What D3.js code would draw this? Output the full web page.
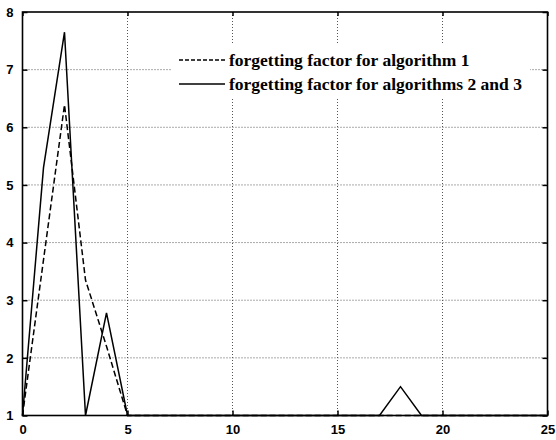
<!DOCTYPE html>
<html>
<head>
  <meta charset="utf-8">
  <script src="https://d3js.org/d3.v7.min.js"></script>
  <style>
    body { margin: 0; background: #fff; }
    .tick text { font-family: "Liberation Sans", Arial, sans-serif; font-weight: bold; font-size: 13px; }
    .legend text { font-family: "Liberation Serif", "Times New Roman", serif; font-weight: bold; font-size: 17.5px; }
  </style>
</head>
<body>
  <svg width="556" height="440"></svg>

  <script>
    // sample index 0..25
    var steps = [0, 1, 2, 3, 4, 5, 6, 7, 8, 9, 10, 11, 12, 13, 14, 15, 16, 17, 18, 19, 20, 21, 22, 23, 24, 25];
    // forgetting factor, algorithm 1 (dashed)
    var alg1 = [1, 3.7, 6.39, 3.35, 2.2, 1, 1, 1, 1, 1, 1, 1, 1, 1, 1, 1, 1, 1, 1, 1, 1, 1, 1, 1, 1, 1];
    // forgetting factor, algorithms 2 and 3 (solid)
    var alg23 = [1, 5.3, 7.65, 1, 2.78, 1, 1, 1, 1, 1, 1, 1, 1, 1, 1, 1, 1, 1, 1.5, 1, 1, 1, 1, 1, 1, 1];

    var xTicks = [0, 5, 10, 15, 20, 25];
    var yTicks = [1, 2, 3, 4, 5, 6, 7, 8];
    var legendLabels = ["forgetting factor for algorithm 1", "forgetting factor for algorithms 2 and 3"];

    var svg = d3.select("svg");
    var m = { left: 22.5, right: 547.5, top: 12, bottom: 415.5 };

    var x = d3.scaleLinear().domain([0, 25]).range([m.left, m.right]);
    var y = d3.scaleLinear().domain([1, 8]).range([m.bottom, m.top]);

    // dotted grid
    svg.append("g").selectAll("line")
      .data(xTicks.slice(1, -1))
      .enter().append("line")
      .attr("x1", d => x(d)).attr("x2", d => x(d))
      .attr("y1", m.top).attr("y2", m.bottom)
      .attr("stroke", "#555").attr("stroke-width", 1)
      .attr("stroke-dasharray", "1,2");

    svg.append("g").selectAll("line")
      .data(yTicks.slice(1, -1))
      .enter().append("line")
      .attr("x1", m.left).attr("x2", m.right)
      .attr("y1", d => y(d)).attr("y2", d => y(d))
      .attr("stroke", "#555").attr("stroke-width", 1)
      .attr("stroke-dasharray", "1,2");

    // axes (ticks pointing inward)
    svg.append("g")
      .attr("transform", "translate(0," + m.bottom + ")")
      .call(d3.axisBottom(x).tickValues(xTicks).tickFormat(d3.format("d")).tickSize(-5).tickPadding(9))
      .call(g => g.select(".domain").remove());

    svg.append("g")
      .attr("transform", "translate(" + m.left + ",0)")
      .call(d3.axisLeft(y).tickValues(yTicks).tickFormat(d3.format("d")).tickSize(-5).tickPadding(9))
      .call(g => g.select(".domain").remove());

    svg.append("g")
      .attr("transform", "translate(0," + m.top + ")")
      .call(d3.axisTop(x).tickValues(xTicks).tickSize(-4).tickFormat(""))
      .call(g => g.select(".domain").remove());

    svg.append("g")
      .attr("transform", "translate(" + m.right + ",0)")
      .call(d3.axisRight(y).tickValues(yTicks).tickSize(-5).tickFormat(""))
      .call(g => g.select(".domain").remove());

    svg.selectAll(".tick line").attr("stroke", "#000").attr("stroke-width", 1.5);
    svg.selectAll(".tick text").attr("fill", "#000");

    // frame
    svg.append("rect")
      .attr("x", m.left).attr("y", m.top)
      .attr("width", m.right - m.left).attr("height", m.bottom - m.top)
      .attr("fill", "none").attr("stroke", "#000").attr("stroke-width", 1.6);

    // series
    var line = d3.line().x((d, i) => x(steps[i])).y(d => y(d));

    svg.append("path")
      .datum(alg1)
      .attr("d", line)
      .attr("fill", "none").attr("stroke", "#000").attr("stroke-width", 1.5)
      .attr("stroke-dasharray", "6,3");

    svg.append("path")
      .datum(alg23)
      .attr("d", line)
      .attr("fill", "none").attr("stroke", "#000").attr("stroke-width", 1.5);

    // legend
    var legend = svg.append("g").attr("class", "legend");
    legend.append("rect")
      .attr("x", 172).attr("y", 44).attr("width", 358).attr("height", 53)
      .attr("fill", "#fff");

    legend.selectAll("line")
      .data(legendLabels)
      .enter().append("line")
      .attr("x1", 179).attr("x2", 225)
      .attr("y1", (d, i) => 60 + i * 24).attr("y2", (d, i) => 60 + i * 24)
      .attr("stroke", "#000").attr("stroke-width", 1.3)
      .attr("stroke-dasharray", (d, i) => i === 0 ? "4,2" : null);

    legend.selectAll("text")
      .data(legendLabels)
      .enter().append("text")
      .attr("x", 229)
      .attr("y", (d, i) => 60 + i * 24)
      .attr("dy", "0.32em")
      .text(d => d);
  </script>
</body>
</html>
